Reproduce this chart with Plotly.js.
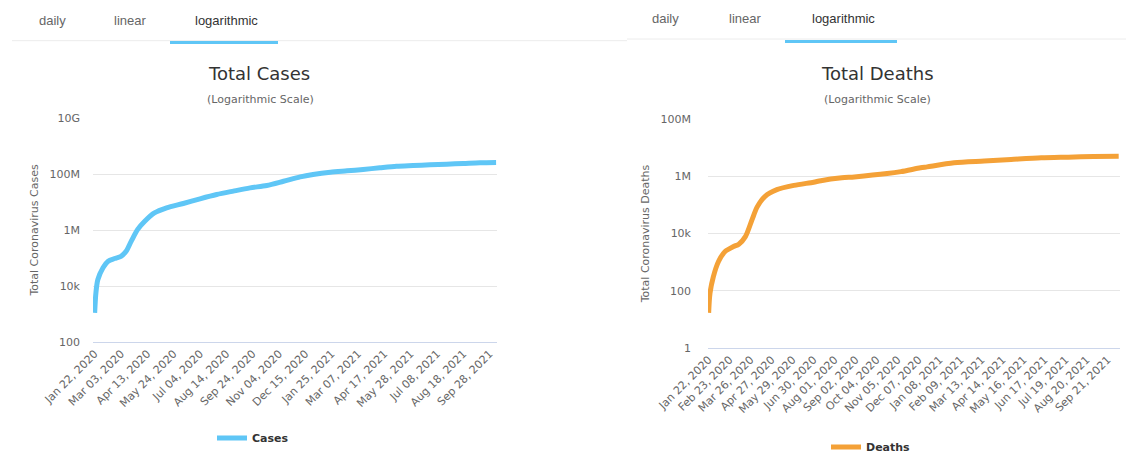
<!DOCTYPE html>
<html>
<head>
<meta charset="utf-8">
<script src="https://cdn.plot.ly/plotly-3.0.1.min.js"></script>
<style>
  html, body { margin: 0; padding: 0; background: #fff; }
  #chart { width: 1126px; height: 453px; }
</style>
</head>
<body>
<div id="chart"></div>
<script>
// Cumulative coronavirus cases (worldwide)
const casesDates = [
  '2020-01-22', '2020-01-24', '2020-01-27', '2020-02-04', '2020-02-12', '2020-02-22',
  '2020-03-03', '2020-03-11', '2020-03-19', '2020-03-29', '2020-04-09', '2020-04-24',
  '2020-05-13', '2020-06-08', '2020-07-04', '2020-07-30', '2020-08-25', '2020-09-20',
  '2020-10-16', '2020-11-11', '2020-12-07', '2020-12-27', '2021-01-23', '2021-02-18',
  '2021-03-15', '2021-04-10', '2021-05-06', '2021-06-01', '2021-06-27', '2021-07-23',
  '2021-08-18', '2021-09-13', '2021-10-08'
];
const casesValues = [
  1100, 5900, 17000, 45000, 77000, 96000,
  115000, 174000, 400000, 1050000, 2050000, 4050000,
  6150000, 8850000, 13000000, 18500000, 24500000, 32000000,
  39000000, 55000000, 79000000, 96000000, 116000000, 130000000,
  145000000, 167000000, 190000000, 201000000, 213000000, 224000000,
  237000000, 251000000, 257000000
];

// Cumulative coronavirus deaths (worldwide)
const deathsDates = [
  '2020-01-22', '2020-01-24', '2020-01-29', '2020-02-06', '2020-02-16', '2020-02-29',
  '2020-03-08', '2020-03-18', '2020-03-28', '2020-04-05', '2020-04-17', '2020-05-05',
  '2020-05-31', '2020-06-30', '2020-07-11', '2020-08-12', '2020-08-31', '2020-10-20',
  '2020-11-10', '2020-12-10', '2020-12-20', '2021-01-30', '2021-03-17', '2021-04-27',
  '2021-06-12', '2021-07-23', '2021-08-31', '2021-10-08'
];
const deathsValues = [
  17, 80, 300, 1050, 2350, 3500,
  4250, 7800, 30000, 85000, 200000, 340000,
  480000, 620000, 700000, 880000, 950000, 1240000,
  1450000, 1970000, 2130000, 2950000, 3400000, 3850000,
  4400000, 4650000, 4900000, 5000000
];

// Date axis ticks
const casesTickDates = [
  '2020-01-22', '2020-03-03', '2020-04-13', '2020-05-24', '2020-07-04', '2020-08-14',
  '2020-09-24', '2020-11-04', '2020-12-15', '2021-01-25', '2021-03-07', '2021-04-17',
  '2021-05-28', '2021-07-08', '2021-08-18', '2021-09-28'
];
const casesTickLabels = [
  'Jan 22, 2020', 'Mar 03, 2020', 'Apr 13, 2020', 'May 24, 2020', 'Jul 04, 2020', 'Aug 14, 2020',
  'Sep 24, 2020', 'Nov 04, 2020', 'Dec 15, 2020', 'Jan 25, 2021', 'Mar 07, 2021', 'Apr 17, 2021',
  'May 28, 2021', 'Jul 08, 2021', 'Aug 18, 2021', 'Sep 28, 2021'
];
const deathsTickDates = [
  '2020-01-22', '2020-02-23', '2020-03-26', '2020-04-27', '2020-05-29', '2020-06-30',
  '2020-08-01', '2020-09-02', '2020-10-04', '2020-11-05', '2020-12-07', '2021-01-08',
  '2021-02-09', '2021-03-13', '2021-04-14', '2021-05-16', '2021-06-17', '2021-07-19',
  '2021-08-20', '2021-09-21'
];
const deathsTickLabels = [
  'Jan 22, 2020', 'Feb 23, 2020', 'Mar 26, 2020', 'Apr 27, 2020', 'May 29, 2020', 'Jun 30, 2020',
  'Aug 01, 2020', 'Sep 02, 2020', 'Oct 04, 2020', 'Nov 05, 2020', 'Dec 07, 2020', 'Jan 08, 2021',
  'Feb 09, 2021', 'Mar 13, 2021', 'Apr 14, 2021', 'May 16, 2021', 'Jun 17, 2021', 'Jul 19, 2021',
  'Aug 20, 2021', 'Sep 21, 2021'
];

// Logarithmic value ticks
const casesTickValues = [1e2, 1e4, 1e6, 1e8, 1e10];
const casesTickText = ['100', '10k', '1M', '100M', '10G'];
const deathsTickValues = [1, 1e2, 1e4, 1e6, 1e8];
const deathsTickText = ['1', '100', '10k', '1M', '100M'];

const W = 1126, H = 453;
const px = x => x / W;
const py = y => 1 - y / H;

const FONT = 'DejaVu Sans, Lucida Grande, sans-serif';
const TAB_FONT = 'Liberation Sans, Arial, sans-serif';
const BLUE = '#5fc6f6';
const ORANGE = '#f4a137';

const traces = [
  {
    type: 'scatter', mode: 'lines', name: 'Cases', showlegend: true,
    x: casesDates, y: casesValues, xaxis: 'x', yaxis: 'y', legend: 'legend',
    line: { color: BLUE, width: 5, shape: 'spline', smoothing: 0.8 }
  },
  {
    type: 'scatter', mode: 'lines', name: 'Deaths', showlegend: true,
    x: deathsDates, y: deathsValues, xaxis: 'x2', yaxis: 'y2', legend: 'legend2',
    line: { color: ORANGE, width: 5, shape: 'spline', smoothing: 0.8 }
  }
];

function xAxis(domain, range, tickvals, ticktext, anchor) {
  return {
    type: 'date', domain, range, anchor, tickvals, ticktext,
    tickangle: -45, ticks: '', showgrid: false, zeroline: false,
    showline: true, linecolor: '#ccd6eb', linewidth: 1,
    tickfont: { family: FONT, size: 11, color: '#666' },
    automargin: false, fixedrange: true
  };
}
function yAxis(domain, range, tickvals, ticktext, title, anchor, standoff) {
  return {
    type: 'log', domain, range, anchor, tickvals, ticktext,
    ticks: '', showgrid: true, gridcolor: '#e6e6e6', gridwidth: 1,
    zeroline: false, showline: false, ticklabelstandoff: standoff,
    tickfont: { family: FONT, size: 11, color: '#666' },
    title: { text: title, font: { family: FONT, size: 11, color: '#666' }, standoff: 8 },
    automargin: false, fixedrange: true
  };
}

function legendAt(x, y) {
  return {
    x: px(x), y: py(y), xref: 'container', yref: 'container',
    xanchor: 'left', yanchor: 'middle', orientation: 'h',
    bgcolor: 'rgba(0,0,0,0)',
    font: { family: FONT, size: 11, color: '#333', weight: 'bold' }
  };
}

const tab = (text, x, y, active) => ({
  text, x: px(x), y: py(y), xref: 'paper', yref: 'paper', showarrow: false,
  xanchor: 'center', yanchor: 'middle',
  font: { family: TAB_FONT, size: 13, color: active ? '#333' : '#666' }
});
const heading = (text, x, y, size, color) => ({
  text, x: px(x), y: py(y), xref: 'paper', yref: 'paper', showarrow: false,
  xanchor: 'center', yanchor: 'middle',
  font: { family: FONT, size, color }
});

const layout = {
  width: W, height: H,
  // fixed margins: legends must not shrink the plot areas
  margin: { l: 0, r: 0, t: 0, b: 0, pad: 0, autoexpand: false },
  paper_bgcolor: '#fff', plot_bgcolor: '#fff',
  hovermode: false,
  showlegend: true,
  xaxis: xAxis([px(93), px(497)], ['2020-01-19 10:00', '2021-10-09 10:00'], casesTickDates, casesTickLabels, 'y'),
  yaxis: yAxis([py(342), py(118)], [2, 10], casesTickValues, casesTickText, 'Total Coronavirus Cases', 'x', 12),
  xaxis2: xAxis([px(708), px(1120)], ['2020-01-21', '2021-10-10'], deathsTickDates, deathsTickLabels, 'y2'),
  yaxis2: yAxis([py(348), py(119)], [0, 8], deathsTickValues, deathsTickText, 'Total Coronavirus Deaths', 'x2', 16),
  legend: legendAt(212, 438),
  legend2: legendAt(826, 447),
  shapes: [
    // tab bar separators
    { type: 'line', xref: 'paper', yref: 'paper', x0: px(12), x1: px(627), y0: py(40.7), y1: py(40.7), line: { color: '#ececec', width: 1 } },
    { type: 'line', xref: 'paper', yref: 'paper', x0: px(627), x1: px(1126), y0: py(39), y1: py(39), line: { color: '#ececec', width: 1 } },
    // active tab underline
    { type: 'rect', xref: 'paper', yref: 'paper', x0: px(170), x1: px(278), y0: py(44), y1: py(41), fillcolor: BLUE, line: { width: 0 } },
    { type: 'rect', xref: 'paper', yref: 'paper', x0: px(785), x1: px(897), y0: py(43), y1: py(40), fillcolor: BLUE, line: { width: 0 } }
  ],
  annotations: [
    tab('daily', 52, 20, false), tab('linear', 130, 20, false), tab('logarithmic', 226, 20, true),
    tab('daily', 665, 19, false), tab('linear', 745, 19, false), tab('logarithmic', 843, 19, true),
    heading('Total Cases', 259, 74, 18, '#333'),
    heading('(Logarithmic Scale)', 260, 99, 11, '#666'),
    heading('Total Deaths', 877, 74, 18, '#333'),
    heading('(Logarithmic Scale)', 877, 99, 11, '#666')
  ]
};

Plotly.newPlot('chart', traces, layout, { displayModeBar: false, staticPlot: true });
</script>
</body>
</html>
